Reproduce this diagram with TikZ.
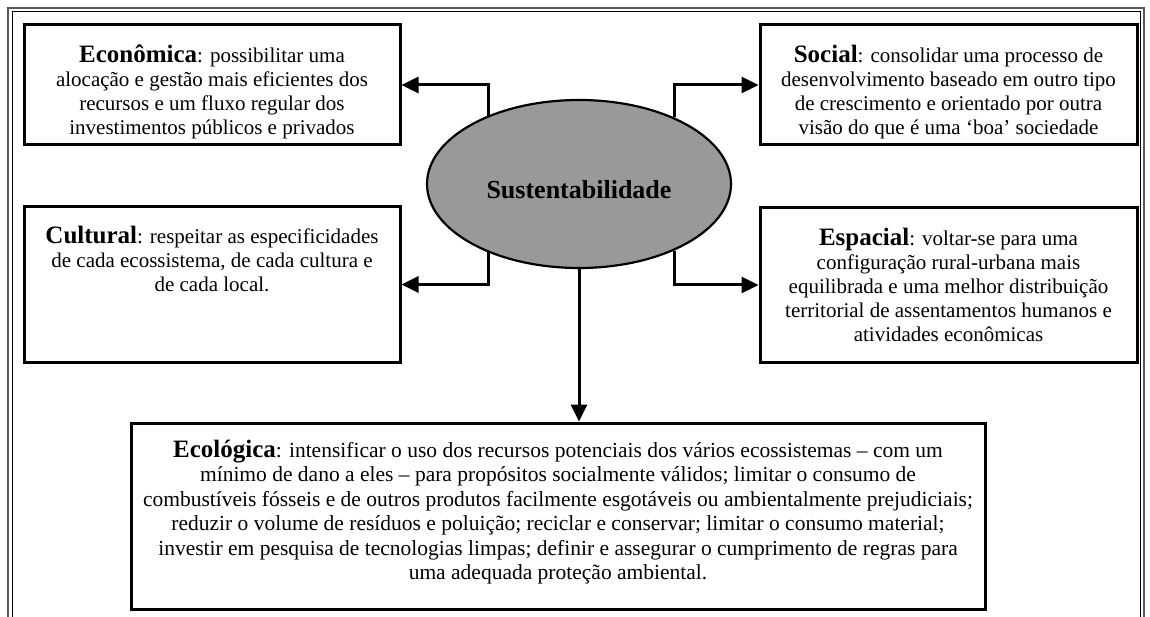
\documentclass[tikz,border=0pt]{standalone}
\usepackage{fontspec}
\setmainfont{Liberation Serif}
\usetikzlibrary{arrows.meta,shapes.geometric}
\newcommand\boxtitle[1]{{\fontsize{25}{24}\selectfont\bfseries #1}}
\newcommand\firststrut{\rule{0pt}{20pt}}
\begin{document}
\begin{tikzpicture}[x=1pt,y=-1pt,
  framebox/.style={draw, line width=3pt, rectangle, inner sep=0pt},
  bodytext/.style={align=center, inner sep=0pt, anchor=north, font=\fontsize{21}{24}\selectfont},
  conn/.style={line width=3pt, -{Triangle[length=17pt,width=16pt]}},
  outerframe/.style={line width=2pt, black!65},
  innerframe/.style={line width=1pt, black}]
\fill[white] (0,0) rectangle (1150,617);
\useasboundingbox (0,0) rectangle (1150,617);
% page frame (double line)
\draw[outerframe] (8,617) -- (8,8) -- (1144,8) -- (1144,617);
\draw[innerframe] (12,617) -- (12,12) -- (1140,12) -- (1140,617);
% boxes
\node[framebox, minimum width=376pt, minimum height=120pt] (econ) at (212,85) {};
\node[framebox, minimum width=377pt, minimum height=120pt] (soc) at (948.5,85) {};
\node[framebox, minimum width=376pt, minimum height=155pt] (cult) at (212,284.5) {};
\node[framebox, minimum width=377pt, minimum height=154pt] (espa) at (948.5,285) {};
\node[framebox, minimum width=854pt, minimum height=186pt] (eco) at (558,516) {};
% central ellipse
\node[ellipse, draw, line width=2.2pt, fill={rgb,255:red,153;green,153;blue,153}, minimum width=304pt, minimum height=168pt, inner sep=0pt] (e) at (579,184) {};
\node[inner sep=0pt, font=\fontsize{26}{26}\selectfont\bfseries] (sust) at (579,190) {Sustentabilidade};
% texts
\node[bodytext] (econT) at (212,42) {\firststrut\boxtitle{Econômica}: possibilitar uma\\alocação e gestão mais eficientes dos\\recursos e um fluxo regular dos\\investimentos públicos e privados};
\node[bodytext] (socT) at (948.5,42) {\firststrut\boxtitle{Social}: consolidar uma processo de\\desenvolvimento baseado em outro tipo\\de crescimento e orientado por outra\\visão do que é uma ‘boa’ sociedade};
\node[bodytext] (cultT) at (212,223) {\firststrut\boxtitle{Cultural}: respeitar as especificidades\\de cada ecossistema, de cada cultura e\\de cada local.};
\node[bodytext] (espaT) at (948.5,225) {\firststrut\boxtitle{Espacial}: voltar-se para uma\\configuração rural-urbana mais\\equilibrada e uma melhor distribuição\\territorial de assentamentos humanos e\\atividades econômicas};
\node[bodytext, font=\fontsize{21.5}{24.5}\selectfont] (ecoT) at (558,437) {\firststrut\boxtitle{Ecológica}: intensificar o uso dos recursos potenciais dos vários ecossistemas – com um\\mínimo de dano a eles – para propósitos socialmente válidos; limitar o consumo de\\combustíveis fósseis e de outros produtos facilmente esgotáveis ou ambientalmente prejudiciais;\\reduzir o volume de resíduos e poluição; reciclar e conservar; limitar o consumo material;\\investir em pesquisa de tecnologias limpas; definir e assegurar o cumprimento de regras para\\uma adequada proteção ambiental.};
% connectors
\draw[conn] (e.143) |- (econ.east);
\draw[conn] (e.35.5) |- (soc.west);
\draw[conn] (e.217) |- (cult.east);
\draw[conn] (e.-35.5) |- (espa.west);
\draw[conn] (e.south) -- (e.south |- eco.north);
\end{tikzpicture}
\end{document}
